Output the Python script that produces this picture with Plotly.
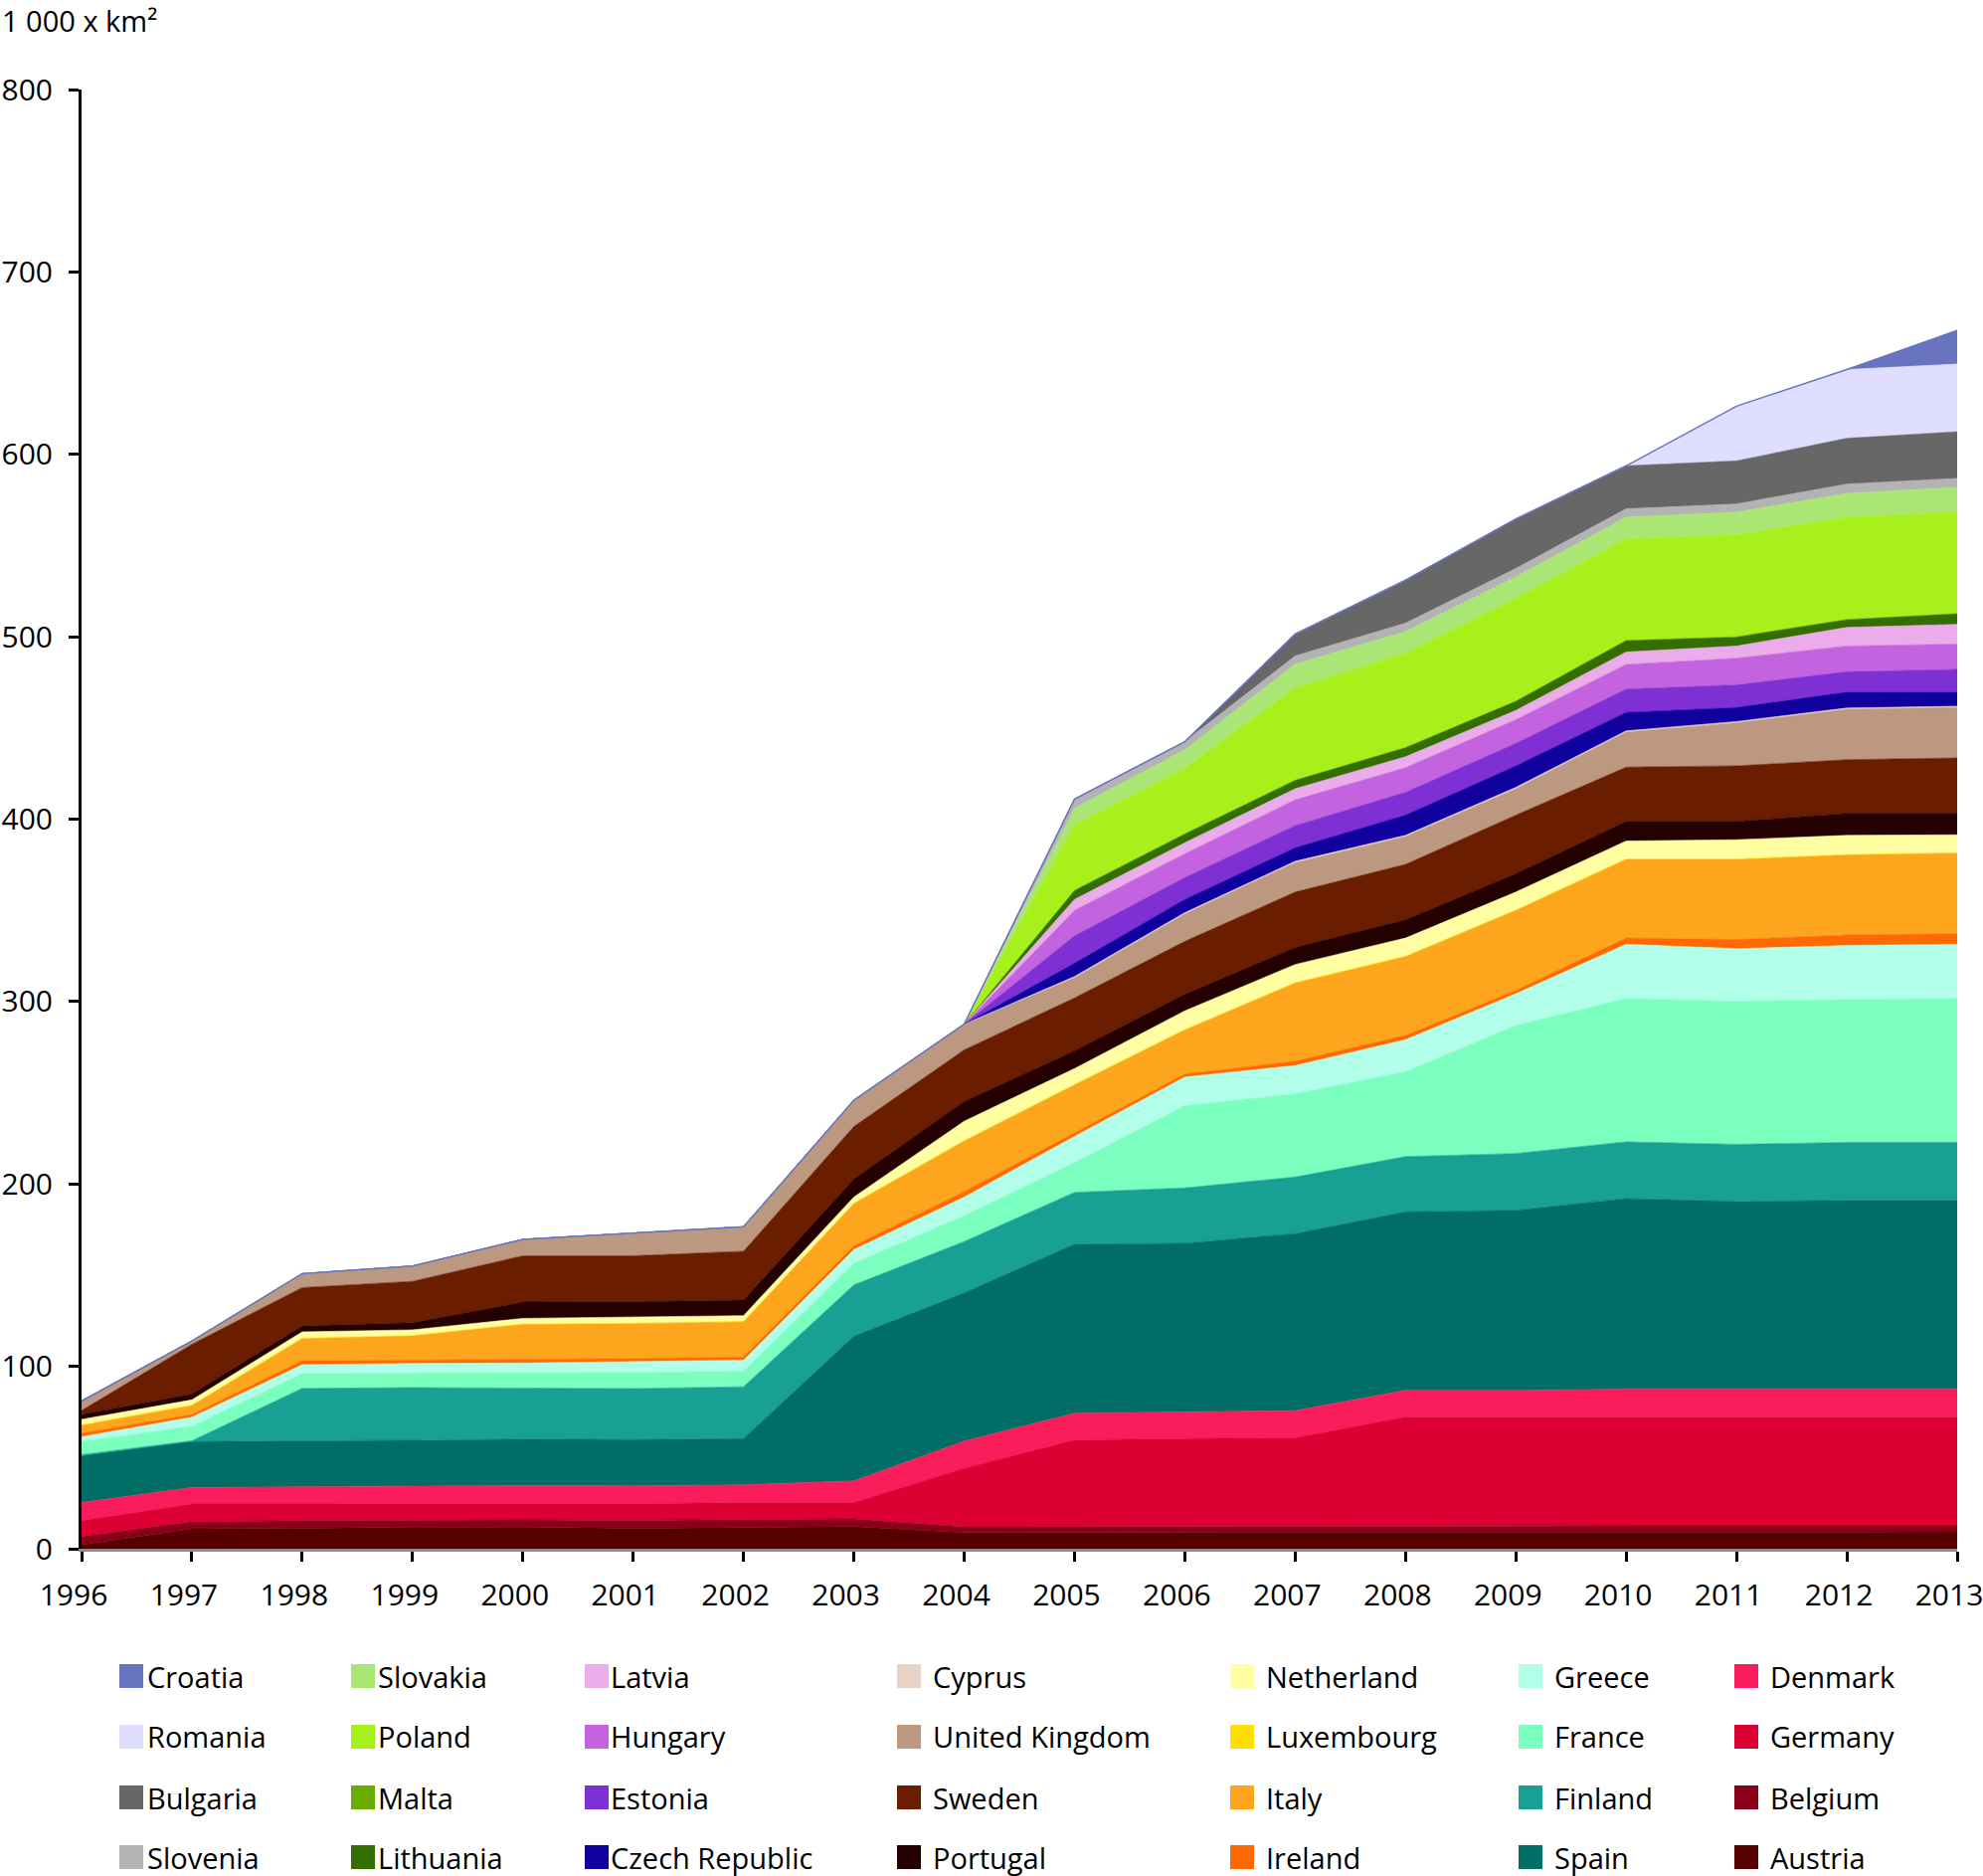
import plotly.graph_objects as go

years = list(range(1996, 2014))

# Stack order: bottom (Austria) to top (Croatia)
countries = ["Austria", "Belgium", "Germany", "Denmark", "Spain", "Finland", "France",
             "Greece", "Ireland", "Italy", "Luxembourg", "Netherland", "Portugal", "Sweden",
             "United Kingdom", "Cyprus", "Czech Republic", "Estonia", "Hungary", "Latvia",
             "Lithuania", "Malta", "Poland", "Slovakia", "Slovenia", "Bulgaria", "Romania", "Croatia"]

colors = ["#560000", "#8b0019", "#dc0033", "#fb1c5b", "#006e67", "#18a094", "#7affbf",
          "#b1ffe8", "#ff6a00", "#fda51d", "#ffdf00", "#ffffa2", "#240000", "#6b1d00",
          "#bc9880", "#e6d3c6", "#10009d", "#7f30d5", "#c463e0", "#ecabea",
          "#346e00", "#6aad00", "#a7f01b", "#a9e673", "#b3b3b3", "#676767", "#e0deff", "#6874c0"]

# Values in 1 000 km2, 1996..2013
austria     = [2.2, 10.9, 11.2, 11.8, 11.8, 11.2, 11.6, 12.2, 8.8, 8.8, 8.8, 8.8, 9.0, 9.0, 9.2, 9.2, 9.2, 9.3]
belgium     = [4.5, 4.0, 4.2, 4.0, 4.0, 4.4, 4.4, 4.2, 3.2, 3.2, 3.3, 3.3, 3.4, 3.4, 3.4, 3.4, 3.4, 3.3]
germany     = [8.7, 9.6, 9.1, 8.7, 9.1, 9.1, 9.3, 8.9, 32.1, 47.6, 48.3, 48.7, 59.9, 59.9, 59.7, 59.7, 59.7, 59.7]
denmark     = [9.9, 9.1, 9.5, 9.8, 9.8, 9.8, 9.7, 11.9, 14.9, 14.7, 14.5, 14.9, 14.6, 14.6, 15.2, 15.2, 15.2, 15.2]
spain       = [25.5, 25.1, 25.2, 25.1, 25.4, 25.3, 25.4, 79.3, 81.3, 92.7, 92.5, 97.1, 97.8, 98.7, 104.5, 102.9, 103.5, 103.5]
finland     = [0.8, 0.5, 28.7, 28.9, 28.0, 28.0, 28.4, 28.1, 28.1, 28.4, 30.4, 31.0, 30.3, 31.1, 31.1, 31.3, 31.8, 31.8]
france      = [7.1, 7.8, 8.2, 8.0, 8.5, 8.9, 8.6, 11.9, 14.1, 16.3, 45.0, 45.6, 46.5, 70.1, 78.6, 78.3, 78.2, 78.9]
greece      = [2.7, 5.1, 4.8, 5.3, 5.2, 6.0, 6.0, 7.5, 10.3, 14.4, 15.8, 15.5, 17.6, 17.5, 29.7, 29.0, 29.7, 29.7]
ireland     = [1.9, 1.5, 2.1, 1.8, 2.0, 1.6, 1.7, 2.1, 3.0, 1.8, 1.6, 2.4, 2.3, 1.8, 3.4, 5.0, 5.8, 5.7]
italy       = [4.3, 4.9, 12.2, 13.3, 19.2, 19.1, 19.3, 23.1, 27.7, 26.4, 24.2, 42.8, 43.2, 43.8, 43.1, 43.9, 43.8, 44.2]
luxembourg  = [0.3, 0.3, 0.3, 0.3, 0.3, 0.3, 0.3, 0.3, 0.3, 0.3, 0.3, 0.3, 0.3, 0.3, 0.3, 0.3, 0.3, 0.3]
netherland  = [3.0, 2.8, 3.4, 3.0, 3.0, 3.3, 3.1, 3.3, 10.6, 8.6, 10.2, 9.9, 9.9, 9.8, 9.8, 10.5, 10.5, 9.8]
portugal    = [2.7, 3.2, 3.2, 3.9, 8.9, 8.4, 8.5, 9.9, 10.9, 9.8, 9.1, 9.4, 10.0, 10.1, 10.8, 10.1, 12.1, 11.8]
sweden      = [2.2, 27.3, 21.1, 22.7, 25.4, 25.2, 26.8, 28.8, 28.2, 29.0, 29.0, 30.3, 30.4, 32.1, 29.7, 30.4, 29.4, 30.3]
uk          = [5.2, 1.8, 7.6, 8.4, 9.0, 12.4, 13.4, 14.4, 14.1, 11.0, 15.0, 16.2, 15.2, 14.5, 19.2, 23.6, 27.6, 27.7]
cyprus      = [0, 0, 0, 0, 0, 0, 0, 0, 0, 0.7, 0.7, 0.7, 0.7, 0.7, 0.7, 0.7, 0.7, 0.7]
czech       = [0, 0, 0, 0, 0, 0, 0, 0, 0, 7.3, 7.3, 7.4, 11.1, 11.8, 10.1, 7.7, 8.7, 7.7]
estonia     = [0, 0, 0, 0, 0, 0, 0, 0, 0, 15.0, 12.0, 12.2, 12.5, 12.4, 12.8, 12.4, 11.2, 12.5]
hungary     = [0, 0, 0, 0, 0, 0, 0, 0, 0, 14.0, 13.0, 14.1, 13.5, 12.9, 13.5, 14.6, 14.1, 13.9]
latvia      = [0, 0, 0, 0, 0, 0, 0, 0, 0, 6.0, 6.0, 6.1, 6.0, 5.1, 6.8, 6.7, 10.2, 10.8]
lithuania   = [0, 0, 0, 0, 0, 0, 0, 0, 0, 5.0, 5.0, 4.7, 5.1, 5.1, 6.4, 5.1, 4.4, 5.9]
malta       = [0, 0, 0, 0, 0, 0, 0, 0, 0, 0, 0, 0, 0, 0, 0, 0, 0, 0]
poland      = [0, 0, 0, 0, 0, 0, 0, 0, 0, 36.0, 36.0, 50.6, 51.7, 56.3, 55.7, 55.9, 56.0, 55.6]
slovakia    = [0, 0, 0, 0, 0, 0, 0, 0, 0, 9.0, 10.0, 13.0, 11.8, 11.8, 11.8, 12.4, 13.1, 13.6]
slovenia    = [0, 0, 0, 0, 0, 0, 0, 0, 0, 5.0, 4.5, 4.5, 4.6, 4.6, 4.6, 4.5, 5.1, 4.9]
bulgaria    = [0, 0, 0, 0, 0, 0, 0, 0, 0, 0, 0, 12.0, 23.6, 27.2, 23.6, 23.6, 25.1, 25.6]
romania     = [0, 0, 0, 0, 0, 0, 0, 0, 0, 0, 0, 0, 0, 0, 0, 30.0, 37.7, 37.1]
croatia     = [0, 0, 0, 0, 0, 0, 0, 0, 0, 0, 0, 0, 0, 0, 0, 0, 0, 18.4]

series = [austria, belgium, germany, denmark, spain, finland, france, greece, ireland,
          italy, luxembourg, netherland, portugal, sweden, uk, cyprus, czech, estonia,
          hungary, latvia, lithuania, malta, poland, slovakia, slovenia, bulgaria,
          romania, croatia]

y_ticks = [0, 100, 200, 300, 400, 500, 600, 700, 800]
unit_label = "1 000 x km²"

W, H = 1994, 1886
ML, MT = 82, 90
PLOT_R, PLOT_B = 1968, 1557
MR, MB = W - PLOT_R, H - PLOT_B
PW, PH = PLOT_R - ML, PLOT_B - MT


def px_x(x):
    return (x - ML) / PW


def px_y(y):
    return (PLOT_B - y) / PH


fig = go.Figure()
for name, vals, col in zip(countries, series, colors):
    fig.add_trace(go.Scatter(
        x=years, y=vals, name=name, mode="lines", stackgroup="one",
        line=dict(color=col, width=1.5 if name == "Croatia" else 0.6),
        fillcolor=col, showlegend=False,
    ))

# Manual legend: 7 columns x 4 rows, column-major, top of stack first
legend_order = list(reversed(countries))
col_colors = dict(zip(countries, colors))
sw_left = [120, 353, 588, 902, 1237, 1527, 1744]
txt_left = [146, 378, 612, 936, 1271, 1561, 1778]
row_center = [1685, 1746, 1807, 1867]
shapes = []
annotations = []
for i, name in enumerate(legend_order):
    c, r = divmod(i, 4)
    shapes.append(dict(type="rect", xref="paper", yref="paper",
                       x0=px_x(sw_left[c]), x1=px_x(sw_left[c] + 24),
                       y0=px_y(row_center[r] - 12), y1=px_y(row_center[r] + 12),
                       fillcolor=col_colors[name], line=dict(width=0)))
    annotations.append(dict(xref="paper", yref="paper", x=px_x(txt_left[c]),
                            y=px_y(row_center[r]), text=name, showarrow=False,
                            xanchor="left", yanchor="middle",
                            font=dict(size=29, color="#000000")))

annotations.append(dict(xref="paper", yref="paper", x=px_x(0), y=px_y(-1),
                        text=unit_label, showarrow=False, xanchor="left", yanchor="top",
                        font=dict(size=29, color="#000000")))

fig.update_layout(
    width=W, height=H,
    margin=dict(l=ML, r=MR, t=MT, b=MB, pad=0, autoexpand=False),
    paper_bgcolor="white", plot_bgcolor="white",
    font=dict(family="Open Sans, sans-serif", size=29, color="#000000"),
    showlegend=False,
    shapes=shapes, annotations=annotations,
    xaxis=dict(range=[1996, 2013], tickmode="array", tickvals=years,
               ticktext=[str(y) for y in years], showgrid=False, zeroline=False,
               showline=True, linecolor="#7b9595", linewidth=3, automargin=False,
               ticks="outside", ticklen=10, tickwidth=3, tickcolor="#000000",
               tickfont=dict(size=30), ticklabeloverflow="allow",
               ticklabelstandoff=8, ticklabelshift=-8),
    yaxis=dict(range=[0, 800], tickmode="array", tickvals=y_ticks, showgrid=False,
               zeroline=False, showline=True, linecolor="#000000", linewidth=3,
               automargin=False, ticks="outside", ticklen=10, tickwidth=3,
               tickcolor="#000000", tickfont=dict(size=30), ticklabelstandoff=10,
               ticklabeloverflow="allow"),
)

fig.write_html(
    "out.html",
    config={"displayModeBar": False},
    post_script="document.body.style.margin='0';document.body.style.overflow='hidden';",
)
